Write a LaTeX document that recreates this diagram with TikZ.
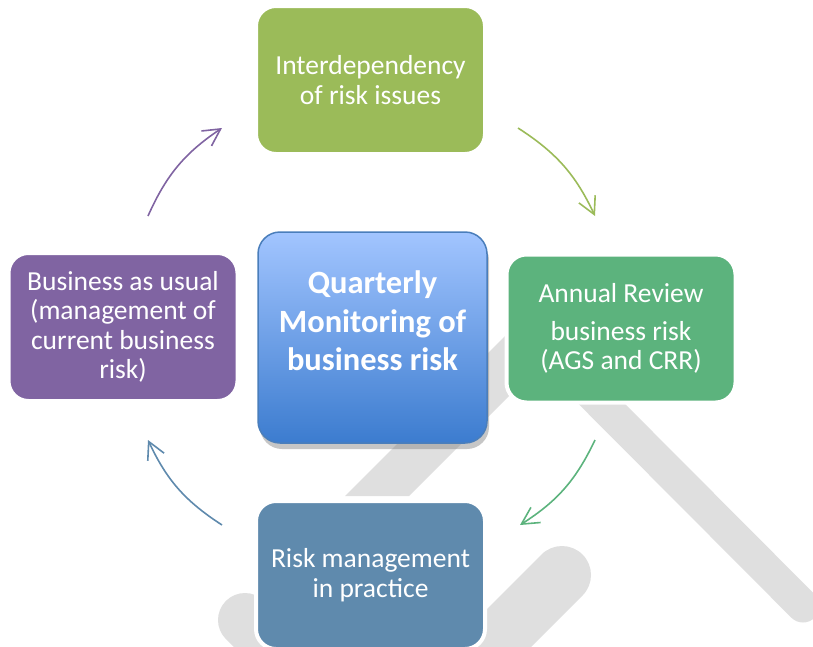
\documentclass[tikz,border=0pt]{standalone}
\usepackage{fontspec}
\setmainfont{Carlito}
\usetikzlibrary{arrows.meta,shadows}

\definecolor{olivebox}{HTML}{9BBB59}
\definecolor{purplebox}{HTML}{8064A2}
\definecolor{greenbox}{HTML}{5CB37D}
\definecolor{steelbox}{HTML}{5F8AAD}
\definecolor{hubtop}{HTML}{A2C5FF}
\definecolor{hubmid}{HTML}{78A5EC}
\definecolor{hubbot}{HTML}{3C7CCF}
\definecolor{hubline}{HTML}{4A7EBB}
\definecolor{wmarkgrey}{HTML}{DFDFDF}

\begin{document}
\begin{tikzpicture}[x=1pt,y=1pt,>={Straight Barb[length=17pt,width=18pt]},
    box/.style={rounded corners=20pt,draw=white,line width=4pt,
      minimum width=229pt,minimum height=148pt,text=white,align=center,
      font=\fontsize{27.5}{29.5}\selectfont},
    hub/.style={rounded corners=22pt,draw=hubline,line width=1.5pt,
      minimum width=229pt,minimum height=211pt,
      top color=hubtop,middle color=hubmid,bottom color=hubbot,
      drop shadow={shadow xshift=2pt,shadow yshift=-6pt,opacity=.45}},
    hubtext/.style={text=white,align=center,
      font=\fontsize{32.5}{38.5}\selectfont\bfseries},
    turn/.style={->,line width=1.6pt,bend left=16},
    wmark/.style={draw=wmarkgrey,line cap=round}]

  \useasboundingbox (0,0) rectangle (813,-646);
  \clip (0,0) rectangle (813,-646);

  % grey strokes in the background
  \fill[wmarkgrey] (345,-496) -- (409,-496) -- (635,-270) -- (571,-270) -- cycle;
  \draw[wmark,line width=33pt] (560,-362) -- (803,-606);
  \draw[wmark,line width=58pt] (562,-575) -- (430,-707);
  \draw[wmark,line width=54pt] (245,-620) -- (330,-705);

  % the boxes
  \node[hub]                   (hub)      at (372.5,-337.5) {};
  \node[hubtext]               (hubtext)  at (372.5,-321)   {Quarterly\\Monitoring of\\business risk};
  \node[box,fill=olivebox]     (interdep) at (370.5,-80)    {Interdependency\\of risk issues};
  \node[box,fill=greenbox]     (annual)   at (621,-328.5)   {Annual Review\\[8pt]business risk\\(AGS and CRR)};
  \node[box,fill=steelbox]     (practice) at (370.5,-575)   {Risk management\\in practice};
  \node[box,fill=purplebox]    (usual)    at (123,-327)     {Business as usual\\(management of\\current business\\risk)};

  % ends of the arrows between the boxes
  \coordinate (usual-out)    at (148,-216);
  \coordinate (interdep-in)  at (222,-128);
  \coordinate (interdep-out) at (518,-128);
  \coordinate (annual-in)    at (595,-216);
  \coordinate (annual-out)   at (595,-440);
  \coordinate (practice-in)  at (520,-525);
  \coordinate (practice-out) at (222,-525);
  \coordinate (usual-in)     at (148,-440);

  \draw[turn,purplebox] (usual-out) to (interdep-in);
  \draw[turn,olivebox]  (interdep-out) to (annual-in);
  \draw[turn,greenbox]  (annual-out) to (practice-in);
  \draw[turn,steelbox]  (practice-out) to (usual-in);

\end{tikzpicture}
\end{document}
